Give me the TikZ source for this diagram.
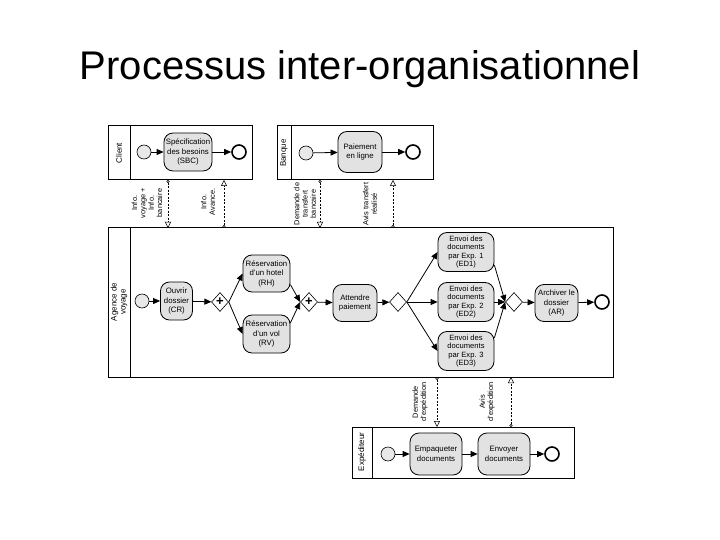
\documentclass[tikz,border=0pt]{standalone}
\usepackage{fontspec}
\setmainfont{Liberation Sans}
\usetikzlibrary{arrows.meta,shapes.geometric}
\definecolor{taskgray}{RGB}{226,226,226}
\definecolor{evgray}{RGB}{232,232,232}
\begin{document}
\begin{tikzpicture}[x=1pt,y=-1pt,
  task/.style={draw, line width=0.8pt, rounded corners=9pt, fill=taskgray, align=center, inner sep=0pt, font=\fontsize{7.8}{9.5}\selectfont},
  task4/.style={task, font=\fontsize{7.6}{8.6}\selectfont},
  startev/.style={circle, draw, line width=0.6pt, fill=evgray, minimum size=14pt, inner sep=0pt},
  endev/.style={circle, draw, line width=1.6pt, fill=white, minimum size=14pt, inner sep=0pt},
  gate/.style={diamond, draw, line width=0.6pt, fill=white, minimum width=17pt, minimum height=19pt, inner sep=0pt, font=\fontsize{13}{13}\selectfont\bfseries},
  pool/.style={draw, line width=1pt, inner sep=0pt, outer sep=0pt},
  seq/.style={-{Triangle[length=7pt,width=6pt]}, line width=0.8pt},
  msg/.style={{Circle[open,length=3pt]}-{Triangle[open,length=6pt,width=6pt]}, dash pattern=on 2pt off 1.5pt, line width=0.5pt},
  lbl/.style={rotate=90, align=center, font=\fontsize{7.4}{8.3}\selectfont},
  plbl/.style={rotate=90, align=center, font=\fontsize{8}{9}\selectfont},
]
\useasboundingbox (0,0) rectangle (720,540);

% title
\node[anchor=base, font=\fontsize{40}{40}\selectfont] (title) at (360,80) {Processus inter-organisationnel};

% pools
\node[pool, minimum width=144pt, minimum height=54pt] (pC) at (180,153) {};
\node[pool, minimum width=156pt, minimum height=54pt] (pB) at (355,153) {};
\node[pool, minimum width=505pt, minimum height=149pt] (pA) at (360.5,302.5) {};
\node[pool, minimum width=222pt, minimum height=51pt] (pE) at (463,452.5) {};
\draw[line width=1pt] ([xshift=22pt]pC.north west) -- ([xshift=22pt]pC.south west);
\draw[line width=1pt] ([xshift=14pt]pB.north west) -- ([xshift=14pt]pB.south west);
\draw[line width=1pt] ([xshift=22pt]pA.north west) -- ([xshift=22pt]pA.south west);
\draw[line width=1pt] ([xshift=20pt]pE.north west) -- ([xshift=20pt]pE.south west);
\node[plbl] (lC) at (119,153) {Client};
\node[plbl] (lB) at (284,153) {Banque};
\node[plbl] (lA) at (119,302) {Agence de\\voyage};
\node[plbl] (lE) at (362,452) {Expéditeur};

% Client
\node[startev] (c0) at (144,152) {};
\node[task, minimum width=48pt, minimum height=38pt] (sbc) at (188,152) {Spécification\\des besoins\\(SBC)};
\node[endev] (c1) at (239,152) {};
\draw[seq] (c0) -- (sbc);
\draw[seq] (sbc) -- (c1);

% Banque
\node[startev] (b0) at (306,153) {};
\node[task, minimum width=44pt, minimum height=41pt] (pel) at (360,152) {Paiement\\en ligne};
\node[endev] (b1) at (413,152) {};
\draw[seq] (b0) -- (pel);
\draw[seq] (pel) -- (b1);

% Agence
\node[startev] (a0) at (142,301) {};
\node[task, minimum width=32pt, minimum height=38pt] (cr) at (176.5,301) {Ouvrir\\dossier\\(CR)};
\node[gate] (g1) at (220,302) {+};
\node[task, minimum width=47pt, minimum height=37pt] (rh) at (266.5,273.5) {Réservation\\d'un hotel\\(RH)};
\node[task, minimum width=47pt, minimum height=38pt] (rv) at (266.5,334) {Réservation\\d'un vol\\(RV)};
\node[gate] (g2) at (309,302) {+};
\node[task, minimum width=44pt, minimum height=37pt] (ap) at (355,303) {Attendre\\paiement};
\node[gate] (g3) at (398,302) {};
\node[task4, minimum width=56pt, minimum height=39pt] (ed1) at (466,252) {Envoi des\\documents\\par Exp. 1\\(ED1)};
\node[task4, minimum width=56pt, minimum height=39pt] (ed2) at (466,302) {Envoi des\\documents\\par Exp. 2\\(ED2)};
\node[task4, minimum width=56pt, minimum height=39pt] (ed3) at (466,351) {Envoi des\\documents\\par Exp. 3\\(ED3)};
\node[gate] (g4) at (514,302) {};
\node[task, minimum width=43pt, minimum height=37pt] (ar) at (556.5,303) {Archiver le\\dossier\\(AR)};
\node[endev] (a1) at (602,302) {};
\draw[seq] (a0) -- (cr);
\draw[seq] (cr) -- (g1);
\draw[seq] (g1.east) -- (rh.west);
\draw[seq] (g1.east) -- (rv.west);
\draw[seq] (rh.-25) -- (g2.west);
\draw[seq] (rv.25) -- (g2.west);
\draw[seq] (g2) -- (ap);
\draw[seq] (ap) -- (g3);
\draw[seq] (g3.east) -- (ed1.west);
\draw[seq] (g3.east) -- (ed2.west);
\draw[seq] (g3.east) -- (ed3.west);
\draw[seq] (ed1.-25) -- (g4.west);
\draw[seq] (ed2.east) -- (g4.west);
\draw[seq] (ed3.25) -- (g4.west);
\draw[seq] (g4) -- (ar);
\draw[seq] (ar) -- (a1);

% Expediteur
\node[startev] (e0) at (388,454) {};
\node[task, minimum width=52pt, minimum height=42pt] (emp) at (436,454) {Empaqueter\\documents};
\node[task, minimum width=52pt, minimum height=42pt] (env) at (504,454) {Envoyer\\documents};
\node[endev] (e1) at (552,454) {};
\draw[seq] (e0) -- (emp);
\draw[seq] (emp) -- (env);
\draw[seq] (env) -- (e1);

% message flows
\draw[msg] (pC.south -| 168,0) -- (pA.north -| 168,0);
\draw[msg] (pA.north -| 224,0) -- (pC.south -| 224,0);
\draw[msg] (pB.south -| 320,0) -- (pA.north -| 320,0);
\draw[msg] (pA.north -| 393,0) -- (pB.south -| 393,0);
\draw[msg] (pA.south -| 437,0) -- (pE.north -| 437,0);
\draw[msg] (pE.north -| 511,0) -- (pA.south -| 511,0);

\node[lbl] (t1) at (147,203) {Info.\\voyage +\\Info.\\bancaire};
\node[lbl] (t2) at (208,202) {Info.\\Avance.};
\node[lbl] (t3) at (305,204) {Demande de\\transfert\\bancaire};
\node[lbl] (t4) at (370,204) {Avis transfert\\réalisé};
\node[lbl] (t5) at (420,402) {Demande\\d'expédition};
\node[lbl] (t6) at (487,402) {Avis\\d'expédition};
\end{tikzpicture}
\end{document}
